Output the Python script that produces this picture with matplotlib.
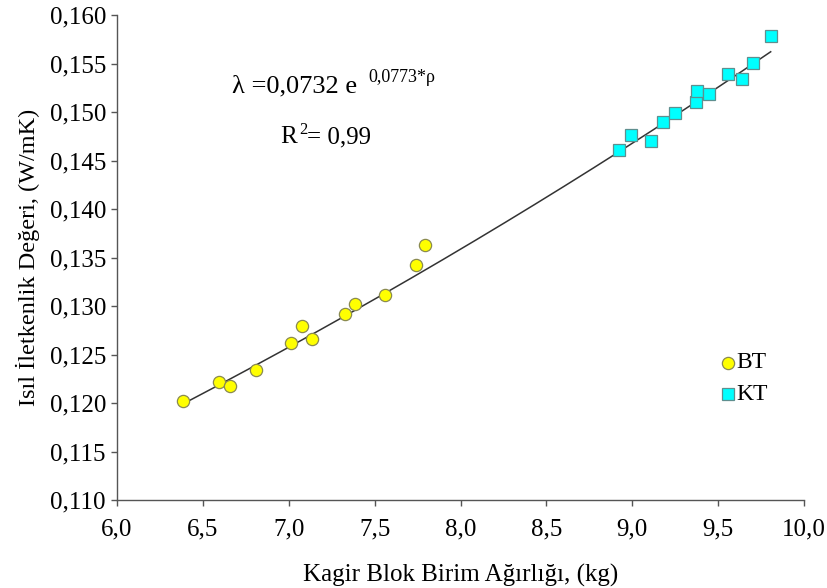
import matplotlib
matplotlib.use("Agg")
import matplotlib.pyplot as plt
import numpy as np
from matplotlib.ticker import FuncFormatter, MultipleLocator

plt.rcParams['font.family'] = ['Liberation Serif', 'DejaVu Serif']

# Data
bt_x = [6.386, 6.592, 6.660, 6.811, 7.015, 7.077, 7.135, 7.326, 7.388, 7.562, 7.741, 7.795]
bt_y = [0.1202, 0.1222, 0.1218, 0.1234, 0.1262, 0.1279, 0.1266, 0.1292, 0.1302, 0.1311, 0.1342, 0.1363]
kt_x = [8.925, 8.993, 9.111, 9.181, 9.249, 9.371, 9.377, 9.445, 9.559, 9.641, 9.701, 9.806]
kt_y = [0.1461, 0.1476, 0.1470, 0.1490, 0.1499, 0.1510, 0.1522, 0.1519, 0.1539, 0.1534, 0.1551, 0.1578]
fit_a = 0.0732
fit_b = 0.0773
xlabel = "Kagir Blok Birim Ağırlığı, (kg)"
ylabel = "Isıl İletkenlik Değeri, (W/mK)"
series_names = ["BT", "KT"]

W, H = 828, 588
fig = plt.figure(figsize=(W / 100, H / 100), dpi=100)
ax = fig.add_axes([117 / W, 1 - 500 / H, (804 - 117) / W, (500 - 15) / H])

xs = np.linspace(min(bt_x), max(kt_x), 200)
ax.plot(xs, fit_a * np.exp(fit_b * xs), color='#333333', lw=1.1, zorder=2)

ax.plot(bt_x, bt_y, 'o', ms=8.8, mfc='#FFFF00', mec='#8a8a50', mew=0.9, zorder=3)
ax.plot(kt_x, kt_y, 's', ms=8.3, mfc='#00FFFF', mec='#5f8f8f', mew=0.9, zorder=3)

ax.set_xlim(6.0, 10.0)
ax.set_ylim(0.110, 0.160)
ax.xaxis.set_major_locator(MultipleLocator(0.5))
ax.yaxis.set_major_locator(MultipleLocator(0.005))
ax.xaxis.set_major_formatter(FuncFormatter(lambda v, p: f"{v:.1f}".replace('.', ',')))
ax.yaxis.set_major_formatter(FuncFormatter(lambda v, p: f"{v:.3f}".replace('.', ',')))
for s in ['top', 'right']:
    ax.spines[s].set_visible(False)
for s in ['left', 'bottom']:
    ax.spines[s].set_color('#555555')
    ax.spines[s].set_linewidth(1.0)
ax.tick_params(direction='out', length=4, width=1.0, color='#555555', labelsize=18, pad=4)
ax.tick_params(axis='x', pad=9)

ax.set_xlabel(xlabel, fontsize=18, labelpad=17)
ax.set_ylabel(ylabel, fontsize=17.5, labelpad=7)

# equation text
fig.text(232 / W, 1 - 92 / H, "λ =0,0732 e", fontsize=19, ha='left', va='baseline')
fig.text(368 / W, 1 - 82 / H, "0,0773*ρ", fontsize=13, ha='left', va='baseline')
fig.text(280 / W, 1 - 143 / H, "R", fontsize=18, ha='left', va='baseline')
fig.text(299 / W, 1 - 134 / H, "2", fontsize=12, ha='left', va='baseline')
fig.text(307 / W, 1 - 143 / H, "= 0,99", fontsize=18, ha='left', va='baseline')

# legend
fig.lines.append(plt.Line2D([728 / W], [1 - 363 / H], transform=fig.transFigure, marker='o', ms=8.8,
                            mfc='#FFFF00', mec='#8a8a50', mew=0.9, ls='none'))
fig.lines.append(plt.Line2D([728 / W], [1 - 394 / H], transform=fig.transFigure, marker='s', ms=8.3,
                            mfc='#00FFFF', mec='#5f8f8f', mew=0.9, ls='none'))
fig.text(736 / W, 1 - 363 / H, series_names[0], fontsize=17, ha='left', va='center')
fig.text(736 / W, 1 - 394 / H, series_names[1], fontsize=17, ha='left', va='center')

fig.savefig("out.png", dpi=100, facecolor='white')
